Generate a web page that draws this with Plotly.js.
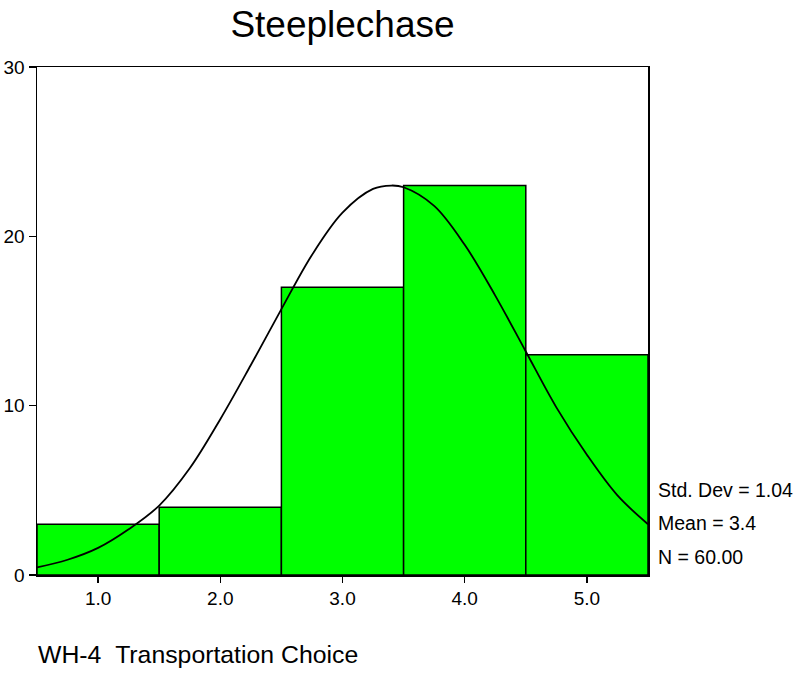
<!DOCTYPE html>
<html>
<head>
<meta charset="utf-8">
<script src="https://cdn.plot.ly/plotly-3.0.1.min.js"></script>
<style>html,body{margin:0;padding:0;background:#fff;}</style>
</head>
<body>
<div id="chart" style="width:797px;height:675px;"></div>
<script>
// Histogram bins (category midpoints) and counts
var categories = [1, 2, 3, 4, 5];
var tickLabels = ["1.0", "2.0", "3.0", "4.0", "5.0"];
var counts = [3, 4, 17, 23, 13];

// Fitted normal curve
var curveX = [0.5, 0.75, 1.0, 1.25, 1.5, 1.75, 2.0, 2.25, 2.5, 2.75, 3.0, 3.25, 3.4, 3.5, 3.75, 4.0, 4.25, 4.5, 4.75, 5.0, 5.25, 5.5];
var curveY = [0.45, 0.9, 1.6, 2.7, 4.1, 6.3, 9.2, 12.4, 15.7, 18.9, 21.4, 22.8, 23.0, 22.9, 21.8, 19.5, 16.5, 13.2, 9.9, 7.1, 4.7, 3.0];

// Summary statistics
var statLines = ["Std. Dev = 1.04", "Mean = 3.4", "N = 60.00"];
var statY = [5.0, 3.05, 1.05];

var font = "Arial, 'Liberation Sans', sans-serif";

var traces = [
  {
    type: "bar",
    x: categories,
    y: counts,
    width: 1,
    marker: {color: "#00ff00", line: {color: "#000000", width: 1.5}},
    hoverinfo: "x+y"
  },
  {
    type: "scatter",
    mode: "lines",
    x: curveX,
    y: curveY,
    line: {color: "#000000", width: 1.8, shape: "spline"},
    hoverinfo: "skip"
  }
];

var annotations = statLines.map(function (t, i) {
  return {
    text: t, xref: "paper", yref: "y", x: 1.013, y: statY[i],
    xanchor: "left", yanchor: "middle", showarrow: false,
    font: {family: font, size: 19.5, color: "#000"}
  };
});
annotations.push({
  text: "WH-4&nbsp;&nbsp;Transportation Choice", xref: "paper", yref: "paper",
  x: -0.002, y: -0.157, xanchor: "left", yanchor: "middle", showarrow: false,
  font: {family: font, size: 24.8, color: "#000"}
});

var layout = {
  width: 797, height: 675,
  margin: {l: 37, r: 149, t: 67, b: 100, pad: 0},
  paper_bgcolor: "#ffffff", plot_bgcolor: "#ffffff",
  showlegend: false,
  bargap: 0,
  title: {
    text: "Steeplechase", xref: "paper", x: 0.5, xanchor: "center",
    yref: "container", y: 0.965, yanchor: "middle",
    font: {family: font, size: 37, color: "#000"}
  },
  xaxis: {
    range: [0.5, 5.5], tickmode: "array", tickvals: categories, ticktext: tickLabels,
    ticks: "outside", ticklen: 6, tickcolor: "#000", tickwidth: 1.5,
    showline: true, linecolor: "#000", linewidth: 1.5, mirror: true,
    showgrid: false, zeroline: false,
    tickfont: {family: font, size: 19, color: "#000"}
  },
  yaxis: {
    range: [0, 30], tickmode: "array", tickvals: [0, 10, 20, 30],
    ticks: "outside", ticklen: 7, tickcolor: "#000", tickwidth: 1.5,
    showline: true, linecolor: "#000", linewidth: 1.5, mirror: true,
    showgrid: false, zeroline: false,
    tickfont: {family: font, size: 19, color: "#000"}
  },
  annotations: annotations
};

Plotly.newPlot("chart", traces, layout, {displayModeBar: false, staticPlot: true});
</script>
</body>
</html>
